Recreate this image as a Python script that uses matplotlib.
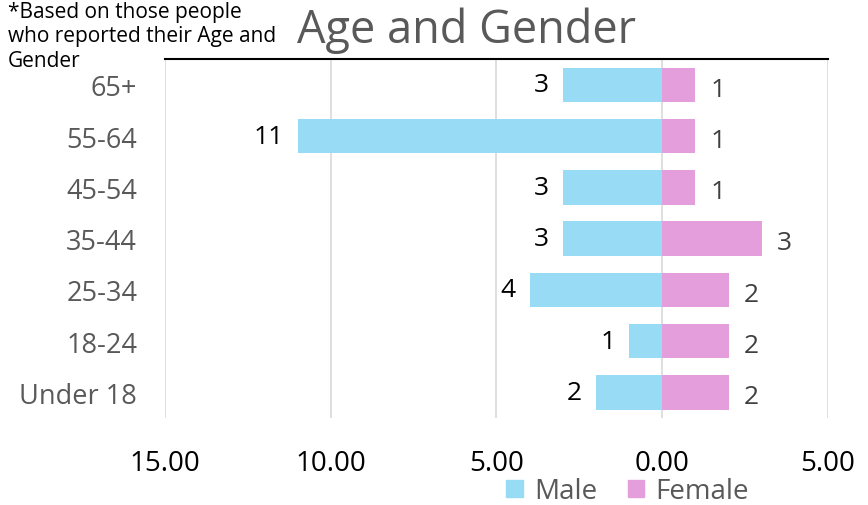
import matplotlib
matplotlib.use("Agg")
import matplotlib.pyplot as plt
from matplotlib.ticker import FuncFormatter
from matplotlib.patches import Patch

categories = ["Under 18", "18-24", "25-34", "35-44", "45-54", "55-64", "65+"]
male = [2, 1, 4, 3, 3, 11, 3]
female = [2, 2, 2, 3, 1, 1, 1]
xticks = [-15, -10, -5, 0, 5]

plt.rcParams['font.family'] = ['Open Sans', 'DejaVu Sans']

male_c = "#97DBF5"
female_c = "#E39EDB"
gray = "#595959"

fig = plt.figure(figsize=(8.68, 5.06), dpi=100)
ax = fig.add_axes([0.190, 0.172, 0.764, 0.709])

y = list(range(len(categories)))
neg_male = [-v for v in male]
ax.barh(y, neg_male, height=0.67, color=male_c, zorder=2)
ax.barh(y, female, height=0.67, color=female_c, zorder=2)

for yi, m, f in zip(y, male, female):
    ax.annotate(str(m), (-m, yi), xytext=(-10, 0), textcoords="offset points",
                ha="right", va="center", fontsize=19, color="black")
    ax.annotate(str(f), (f, yi), xytext=(11, -3), textcoords="offset points",
                ha="left", va="center", fontsize=19, color="#404040")

ax.set_xlim(-15, 5)
ax.set_ylim(-0.5, len(categories) - 0.5)
ax.set_xticks(xticks)
ax.xaxis.set_major_formatter(FuncFormatter(lambda v, p: f"{abs(v):.2f}"))
ax.set_yticks(y)
ax.set_yticklabels(categories)
ax.tick_params(axis="x", length=0, pad=22, labelsize=20, labelcolor="black")
ax.tick_params(axis="y", length=0, pad=20, labelsize=19.5, labelcolor=gray)
ax.grid(axis="x", color="#D9D9D9", linewidth=1.2, zorder=0)
ax.set_axisbelow(True)
for s in ["left", "right", "bottom"]:
    ax.spines[s].set_visible(False)
ax.spines["top"].set_color("black")
ax.spines["top"].set_linewidth(1.5)

fig.text(0.537, 0.94, "Age and Gender", ha="center", va="center",
         fontsize=32.5, color=gray)
fig.text(0.009, 0.997, "*Based on those people\nwho reported their Age and\nGender",
         ha="left", va="top", fontsize=15, color="black", linespacing=1.22)

handles = [Patch(color=male_c, label="Male"), Patch(color=female_c, label="Female")]
fig.legend(handles=handles, loc="center", bbox_to_anchor=(0.723, 0.027), ncol=2,
           frameon=False, fontsize=20, labelcolor=gray, handlelength=0.6,
           handleheight=0.6, handletextpad=0.4, columnspacing=1.1)

fig.savefig("out.png", dpi=100)
